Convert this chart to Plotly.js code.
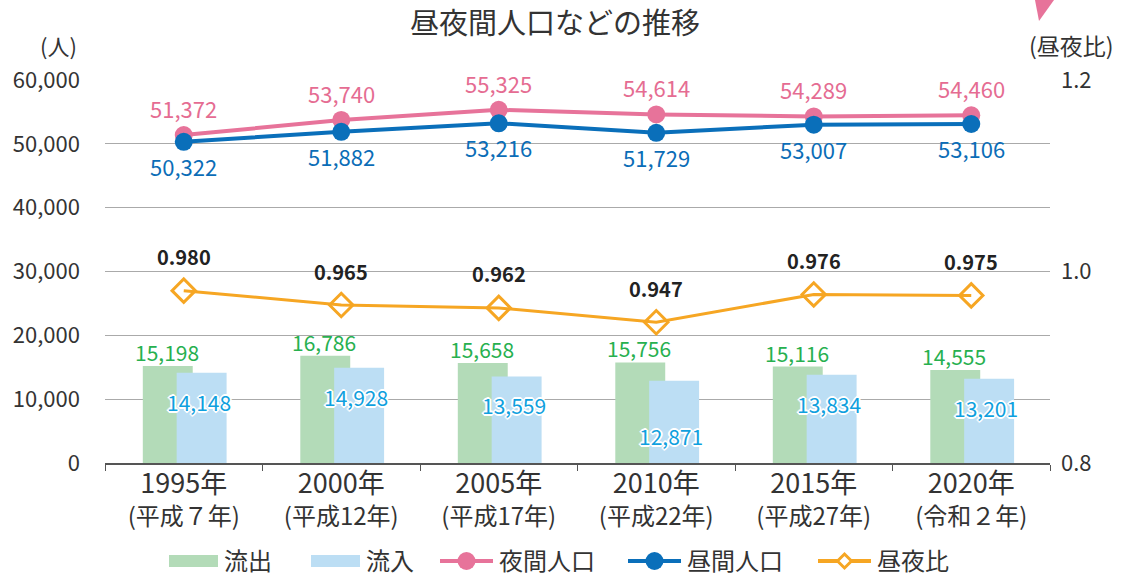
<!DOCTYPE html>
<html><head><meta charset="utf-8">
<script src="https://cdn.plot.ly/plotly-3.0.1.min.js"></script>
<style>html,body{margin:0;padding:0;background:#fff}#c{width:1124px;height:576px}</style>
</head><body><div id="c"></div>
<script>
const categories = ['1995', '2000', '2005', '2010', '2015', '2020'];
const tickYears = ['1995年', '2000年', '2005年', '2010年', '2015年', '2020年'];
const tickEras = ['(平成７年)', '(平成12年)', '(平成17年)', '(平成22年)', '(平成27年)', '(令和２年)'];
const outflow = [15198, 16786, 15658, 15756, 15116, 14555];
const inflow = [14148, 14928, 13559, 12871, 13834, 13201];
const nightPop = [51372, 53740, 55325, 54614, 54289, 54460];
const dayPop = [50322, 51882, 53216, 51729, 53007, 53106];
const ratio = [0.980, 0.965, 0.962, 0.947, 0.976, 0.975];

const FONT = '"Noto Sans CJK JP", "Noto Sans", sans-serif';
const C = {green:'#b3dbb8', lblue:'#bcdef4', pink:'#e7739a', blue:'#0a6fba', orange:'#f6a623',
  tGreen:'#27b04f', tLblue:'#0fa0de', tPink:'#e56c92', tBlue:'#0b6db7', text:'#333333'};

const traces = [
  {type:'bar', name:'流出', x:categories, y:outflow, offset:-0.26, width:0.317,
   marker:{color:C.green}, hoverinfo:'skip'},
  {type:'bar', name:'流入', x:categories, y:inflow, offset:-0.045, width:0.317,
   marker:{color:C.lblue}, hoverinfo:'skip'},
  {type:'scatter', mode:'lines+markers', name:'夜間人口', x:categories, y:nightPop,
   line:{color:C.pink, width:4}, marker:{color:C.pink, size:18}},
  {type:'scatter', mode:'lines+markers', name:'昼間人口', x:categories, y:dayPop,
   line:{color:C.blue, width:4}, marker:{color:C.blue, size:18}},
  {type:'scatter', mode:'lines+markers', name:'昼夜比', x:categories, y:ratio, yaxis:'y2',
   line:{color:C.orange, width:3}, marker:{symbol:'diamond-open', color:C.orange, size:18, line:{width:3, color:C.orange}}}
];

// geometry of plot area in pixels
const L = 105, R = 1050, T = 80, B = 463;
const PW = R - L, PH = B - T;
const px = x => (x - L) / PW, py = y => (B - y) / PH;

const fmt = v => v.toLocaleString('en-US');
const ann = [];
const shapes = [];
const shadow = '2px 0 0 #fff, -2px 0 0 #fff, 0 2px 0 #fff, 0 -2px 0 #fff, 1px 1px 0 #fff, -1px -1px 0 #fff, 1px -1px 0 #fff, -1px 1px 0 #fff';
categories.forEach((c, i) => {
  ann.push({x:i, y:nightPop[i], xref:'x', yref:'y', text:fmt(nightPop[i]), showarrow:false,
    yshift:27, font:{family:FONT, size:22, color:C.tPink}});
  ann.push({x:i, y:dayPop[i], xref:'x', yref:'y', text:fmt(dayPop[i]), showarrow:false,
    yshift:-24, font:{family:FONT, size:22, color:C.tBlue}});
  ann.push({x:i, y:ratio[i], xref:'x', yref:'y2', text:ratio[i].toFixed(3), showarrow:false,
    yshift:34, font:{family:FONT, size:20, color:'#222', weight:'bold'}});
  ann.push({x:i, y:outflow[i], xref:'x', yref:'y', text:fmt(outflow[i]), showarrow:false,
    yshift:14, xshift:-17, font:{family:FONT, size:21, color:C.tGreen}});
  ann.push({x:i, y:inflow[i], xref:'x', yref:'y', text:fmt(inflow[i]), showarrow:false,
    yshift:(i===3 ? -55 : -29), xshift:15, font:{family:FONT, size:21, color:C.tLblue, shadow:shadow}});
});
ann.push({xref:'paper', yref:'paper', x:px(38), y:py(45), xanchor:'left', yanchor:'middle', text:'(人)', showarrow:false,
  font:{family:FONT, size:22, color:C.text}});
ann.push({xref:'paper', yref:'paper', x:px(1116), y:py(45), xanchor:'right', yanchor:'middle', text:'(昼夜比)', showarrow:false,
  font:{family:FONT, size:23, color:C.text}});

// custom legend (built from trace names and colours)
const legY = 561;
const legStarts = [169, 311, 440, 628, 818];
traces.forEach((t, k) => {
  const x0 = legStarts[k];
  let textX;
  if (t.type === 'bar') {
    shapes.push({type:'rect', xref:'paper', yref:'paper', x0:px(x0), x1:px(x0+49), y0:py(legY+6), y1:py(legY-6),
      fillcolor:t.marker.color, line:{width:0}});
    textX = x0 + 53;
  } else {
    const col = t.line.color;
    shapes.push({type:'line', xref:'paper', yref:'paper', x0:px(x0), x1:px(x0+53), y0:py(legY), y1:py(legY),
      line:{color:col, width:4}});
    const cx = x0 + 26.5;
    if (t.marker.symbol === 'diamond-open') {
      const r = 7;
      shapes.push({type:'path', xref:'paper', yref:'paper',
        path:`M ${px(cx-r)} ${py(legY)} L ${px(cx)} ${py(legY-r)} L ${px(cx+r)} ${py(legY)} L ${px(cx)} ${py(legY+r)} Z`,
        fillcolor:'#fff', line:{color:col, width:3}});
    } else {
      const r = 9;
      shapes.push({type:'circle', xref:'paper', yref:'paper', x0:px(cx-r), x1:px(cx+r), y0:py(legY+r), y1:py(legY-r),
        fillcolor:col, line:{width:0}});
    }
    textX = x0 + 57;
  }
  ann.push({xref:'paper', yref:'paper', x:px(textX), y:py(legY-2), xanchor:'left', yanchor:'middle', showarrow:false,
    text:t.name, font:{family:FONT, size:24, color:C.text}});
});

// decorative pink triangle at the top-right corner
shapes.push({type:'path', xref:'paper', yref:'paper',
  path:`M ${px(1035)} ${py(0)} L ${px(1054)} ${py(0)} L ${px(1039)} ${py(21)} Z`,
  fillcolor:C.pink, line:{width:0}});

const tickText = tickYears.map((y, i) => `<span style="font-size:27px">${y}</span><br>${tickEras[i]}`);

const layout = {
  width:1124, height:576,
  margin:{l:L, r:1124-R, t:T, b:576-B},
  paper_bgcolor:'#fff', plot_bgcolor:'#fff',
  font:{family:FONT, color:C.text},
  title:{text:'昼夜間人口などの推移', x:px(555), xanchor:'center', xref:'paper', y:1-24/576, yanchor:'middle',
    font:{family:FONT, size:29, color:C.text}},
  barmode:'overlay',
  showlegend:false,
  xaxis:{type:'category', tickvals:categories, ticktext:tickText, tickson:'boundaries', automargin:false,
    ticks:'outside', ticklen:6, tickcolor:'#555', showline:true, linecolor:'#555', linewidth:1.5,
    showgrid:false, tickfont:{family:FONT, size:24, color:C.text}, range:[-0.5, 5.5]},
  yaxis:{range:[0, 60000], dtick:10000, tickformat:',', showgrid:true, gridcolor:'#aaaaaa', gridwidth:1,
    zeroline:false, showline:false, ticks:'', ticklabelstandoff:24, automargin:false,
    tickfont:{family:FONT, size:22, color:C.text}},
  yaxis2:{overlaying:'y', side:'right', range:[0.8, 1.2], dtick:0.2, tickformat:'.1f', showgrid:false, automargin:false,
    zeroline:false, showline:false, ticks:'', ticklabelstandoff:10, tickfont:{family:FONT, size:22, color:C.text}},
  annotations:ann,
  shapes:shapes
};
Plotly.newPlot('c', traces, layout, {displayModeBar:false, staticPlot:true});
</script></body></html>
